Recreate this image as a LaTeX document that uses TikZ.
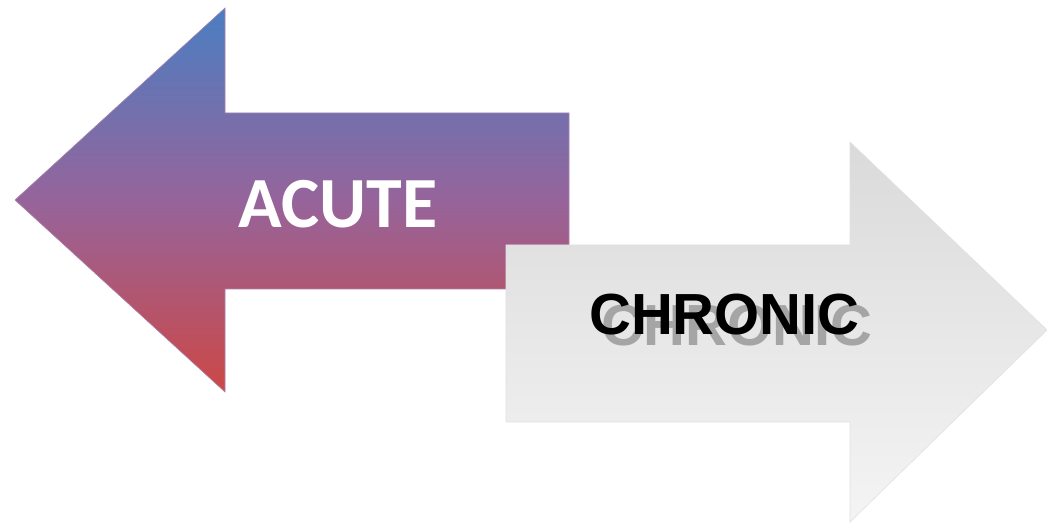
\documentclass[tikz,border=0pt]{standalone}
\usepackage{fontspec}
\newfontfamily\acutefont{Carlito}
\newfontfamily\chronfont{Liberation Sans}
\definecolor{arrblue}{RGB}{74,126,194}
\definecolor{arrpurple}{RGB}{150,100,155}
\definecolor{arrred}{RGB}{204,72,70}
\definecolor{greytop}{RGB}{218,218,218}
\definecolor{greybot}{RGB}{244,244,244}
\definecolor{greyedge}{RGB}{225,225,225}
\definecolor{shadowgrey}{RGB}{165,165,165}
\tikzset{
  leftarrow/.style={top color=arrblue, bottom color=arrred, middle color=arrpurple, draw=arrpurple!80, line width=0.6pt},
  rightarrow/.style={top color=greytop, bottom color=greybot, draw=greyedge, line width=0.6pt},
  acutelabel/.style={text=white, font=\acutefont\bfseries\fontsize{72}{72}\selectfont, inner sep=0pt, anchor=base},
  chronlabel/.style={text=black, font=\chronfont\bfseries\fontsize{58}{58}\selectfont, inner sep=0pt, anchor=base},
  chronshadow/.style={chronlabel, text=shadowgrey}
}
\begin{document}
\begin{tikzpicture}[x=1pt,y=1pt]
\useasboundingbox[fill=white] (0,0) rectangle (1047,525);
% left arrow (ACUTE)
\path[leftarrow] (15,325) -- (225,517) -- (225,412) -- (569,412) -- (569,236) -- (225,236) -- (225,133) -- cycle;
\node[acutelabel] (acute) at (338,297) {ACUTE};
% right arrow (CHRONIC)
\path[rightarrow] (506,280) -- (850,280) -- (850,383) -- (1047,195) -- (850,3) -- (850,103) -- (506,103) -- cycle;
\node[chronshadow] (chronicshadow) at (737,179) {CHRONIC};
\node[chronlabel] (chronic) at (724.5,190) {CHRONIC};
\end{tikzpicture}
\end{document}
